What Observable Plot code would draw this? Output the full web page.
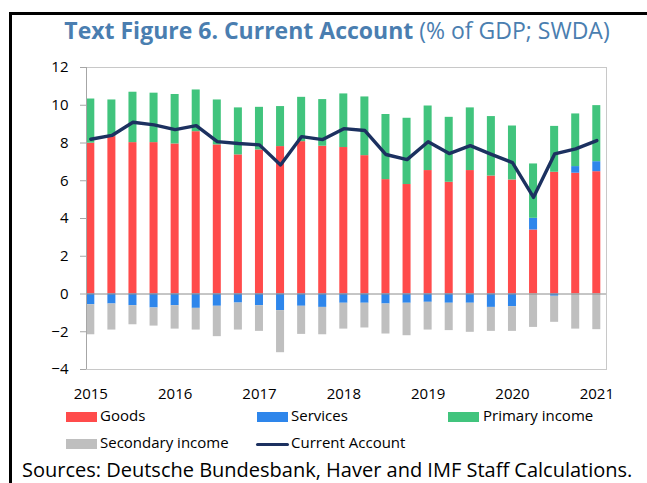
<!DOCTYPE html>
<html><head><meta charset="utf-8">
<script src="https://cdn.jsdelivr.net/npm/d3@7"></script>
<script src="https://cdn.jsdelivr.net/npm/@observablehq/plot@0.6"></script>
<style>
body{margin:0;background:#fff;font-family:"Open Sans",sans-serif;}
#page{position:relative;width:647px;height:483px;overflow:hidden;background:#fff;}
#frame{position:absolute;left:9px;top:12px;width:700px;height:600px;border-left:3px solid #000;border-top:3px solid #000;z-index:3;}
#title{position:absolute;left:9px;width:656px;top:14px;text-align:center;font-size:23px;color:#4A7EB0;white-space:nowrap;z-index:2;}
#title b{font-weight:700;}
#chart{position:absolute;left:0;top:0;}
#chart svg{background:transparent;overflow:visible;}
.lg{position:absolute;font-size:15px;color:#000;white-space:nowrap;z-index:2;line-height:1;}
.sw{position:absolute;height:10px;width:31px;z-index:2;}
.ln{position:absolute;height:3px;width:33px;border-radius:2px;background:#1C3160;z-index:2;}
#src{position:absolute;left:22px;top:458px;font-size:20px;line-height:1.2;color:#000;white-space:nowrap;z-index:2;}
</style></head><body>
<div id="page">
  <div id="frame"></div>
  <div id="title"><b>Text Figure 6. Current Account</b> (% of GDP; SWDA)</div>
  <div id="chart"></div>
  <div class="sw" style="left:66px;top:412px;background:#FF4B4B"></div><div class="lg" style="left:100px;top:408px">Goods</div>
  <div class="sw" style="left:257px;top:412px;background:#2E86EB"></div><div class="lg" style="left:291px;top:408px">Services</div>
  <div class="sw" style="left:448px;top:412px;background:#41C47D"></div><div class="lg" style="left:483px;top:408px">Primary income</div>
  <div class="sw" style="left:66px;top:439px;background:#BFBFBF"></div><div class="lg" style="left:100px;top:435px">Secondary income</div>
  <div class="ln" style="left:256px;top:443px"></div><div class="lg" style="left:291px;top:435px">Current Account</div>
  <div id="src">Sources: Deutsche Bundesbank, Haver and IMF Staff Calculations.</div>
</div>
<script>
const quarters = ["2015Q1","2015Q2","2015Q3","2015Q4","2016Q1","2016Q2","2016Q3","2016Q4",
  "2017Q1","2017Q2","2017Q3","2017Q4","2018Q1","2018Q2","2018Q3","2018Q4",
  "2019Q1","2019Q2","2019Q3","2019Q4","2020Q1","2020Q2","2020Q3","2020Q4","2021Q1"];
const goods = [7.99,8.34,8.02,8.02,7.95,8.60,7.90,7.37,7.63,7.81,8.07,7.83,7.76,7.33,6.06,5.80,6.54,5.92,6.54,6.25,6.04,3.39,6.45,6.40,6.48];
const services = [-0.57,-0.53,-0.62,-0.74,-0.62,-0.76,-0.65,-0.48,-0.62,-0.88,-0.65,-0.71,-0.49,-0.49,-0.53,-0.49,-0.44,-0.49,-0.49,-0.71,-0.67,0.62,-0.12,0.35,0.53];
const primaryIncome = [2.34,1.94,2.67,2.62,2.62,2.21,2.38,2.49,2.26,2.12,2.35,2.47,2.84,3.11,3.45,3.51,3.42,3.44,3.32,3.15,2.86,2.88,2.43,2.79,2.97];
const secondaryIncome = [-1.59,-1.38,-1.01,-0.96,-1.24,-1.15,-1.61,-1.43,-1.36,-2.23,-1.49,-1.45,-1.37,-1.31,-1.59,-1.72,-1.47,-1.45,-1.54,-1.27,-1.31,-1.77,-1.38,-1.86,-1.89];
const currentAccount = [8.2,8.4,9.1,8.96,8.71,8.92,8.07,7.97,7.9,6.84,8.34,8.18,8.76,8.66,7.39,7.12,8.07,7.44,7.86,7.4,6.96,5.12,7.42,7.69,8.13];
const yearTickIndex = [0,4,8,12,16,20,24];
const yearLabels = ["2015","2016","2017","2018","2019","2020","2021"];
const yTicks = [-4,-2,0,2,4,6,8,10,12];
const componentNames = ["Goods","Services","Primary income","Secondary income"];
const componentColors = ["#FF4B4B","#2E86EB","#41C47D","#BFBFBF"];

const series = [goods, services, primaryIncome, secondaryIncome];
const segments = [];
quarters.forEach((q, i) => {
  let pos = 0, neg = 0;
  series.forEach((s, k) => {
    const v = s[i];
    if (v >= 0) { segments.push({i, k, y1: pos, y2: pos + v}); pos += v; }
    else { segments.push({i, k, y1: neg, y2: neg + v}); neg += v; }
  });
});
const caData = currentAccount.map((v, i) => ({i, v}));
const half = 0.19;

const chart = Plot.plot({
  width: 647, height: 405,
  marginLeft: 86, marginRight: 41, marginTop: 67, marginBottom: 36,
  style: {fontFamily: "'Open Sans', sans-serif", fontSize: "15px", color: "#000", background: "transparent"},
  x: {type: "linear", domain: [-0.204, 24.46]},
  y: {domain: [-4, 12]},
  color: {domain: componentNames, range: componentColors},
  marks: [
    Plot.frame({stroke: "#C8C8C8"}),
    Plot.rect(segments, {x1: d => d.i - half, x2: d => d.i + half, y1: "y1", y2: "y2", fill: d => componentNames[d.k]}),
    Plot.ruleY([0], {stroke: "#8C8C8C", strokeWidth: 1}),
    Plot.line(caData, {x: "i", y: "v", stroke: "#1C3160", strokeWidth: 3.4, strokeLinejoin: "round"}),
    Plot.ruleX([-0.204], {stroke: "#A6A6A6"}),
    Plot.axisY({ticks: yTicks, tickSize: 6, tickPadding: 12, stroke: "#A6A6A6", fill: "#000", label: null}),
    Plot.axisX({ticks: yearTickIndex, tickFormat: (d) => yearLabels[yearTickIndex.indexOf(d)], tickSize: 0, tickPadding: 19, label: null, fill: "#000"})
  ]
});
document.getElementById("chart").appendChild(chart);
</script>
</body></html>
